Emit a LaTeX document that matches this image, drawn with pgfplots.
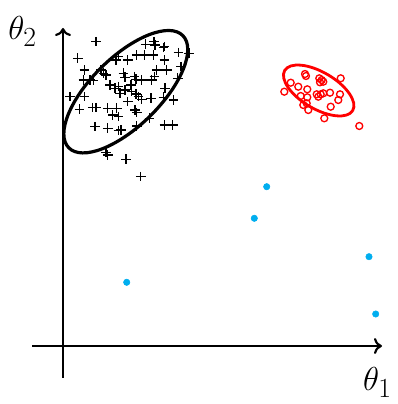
\documentclass[border=0pt]{standalone}
\usepackage{pgfplots}
\pgfplotsset{compat=1.18}
\usetikzlibrary{arrows.meta}
\definecolor{dotcyan}{RGB}{0,174,239}
\definecolor{clred}{RGB}{255,0,0}

% cluster A (plus marks)
\pgfplotstableread{
x y
33 304.3
14.7 287.7
82.7 301.7
91 304.3
92 301
100.3 298.3
101.3 299.3
115.3 293.3
126 292.7
73.7 291
81.3 291
64.7 286
53 286
55.3 289.3
90.3 291
101.3 286
118 279.3
93.7 276
103.7 276
21.3 276
38 276
40.3 272.7
43 271
60.3 272.7
62 268.7
71.3 269.3
73 266.7
78.7 266
91.3 269.3
88.7 266
27 266
20.3 266
30.3 265.3
47 261
52 257.7
55.3 259.3
68 261
62 256
68.7 254.3
73 252
75.3 249.3
78.7 246.7
88 247.7
100.3 248.7
110.3 246
102 257.7
114.7 267.7
7 249.3
21.3 249.3
57 252.7
64.7 244.3
16.3 236.7
29.7 238.3
33 238.3
44.7 237.7
53.7 237.7
49.7 231
55.3 229.3
72 236
73.7 233.3
86.3 227.7
32 219.3
44.7 217.7
55.3 215.3
58 216
73.7 220
101.3 221
109.7 221
43 193.3
44.7 191
63 186.7
77.7 169.3
}\clusterA

% cluster B (open circles)
\pgfplotstableread{
x y
242 272
243 270
256.3 267.7
258.7 266
257 263.7
260.3 264.3
277.7 267.7
221.3 254.3
227.7 263.3
235.3 259.3
244.3 256.7
237.7 250
244.3 248.7
253.7 251.7
257.7 251.7
260.3 252.7
267 253.3
277 251.7
275.3 246
267.7 239.3
240.3 241
243.7 242.7
245.3 236
261.3 227.7
296.3 220
255.3 249.3
}\clusterB

% isolated points
\pgfplotstableread{
x y
203.7 159.3
191.3 127.7
306 89.3
312.7 32
63.7 63.7
}\outliers

\begin{document}
\begin{tikzpicture}
\begin{axis}[
  scale only axis,
  width=297.75pt, height=303pt,
  xmin=-63, xmax=334, ymin=-58, ymax=346,
  hide axis, clip=false,
]
% keep the full plotting area as the picture's extent
\path (axis cs:-63,-58) rectangle (axis cs:334,346);

% coordinate axes
\draw[line width=1.8pt, -{To[length=6pt,width=12pt,line width=1.6pt]}]
  (axis cs:-31,0) -- (axis cs:319,0);
\draw[line width=1.8pt, -{To[length=6pt,width=12pt,line width=1.6pt]}]
  (axis cs:0,-32) -- (axis cs:0,318);

\addplot[only marks, mark=+, mark size=3.6pt, line width=1.1pt, black]
  table[x=x,y=y] {\clusterA};
\addplot[only marks, mark=o, mark size=2.6pt, line width=1pt, clred]
  table[x=x,y=y] {\clusterB};
\addplot[only marks, mark=*, mark size=2.4pt, dotcyan, mark options={draw=dotcyan, fill=dotcyan}]
  table[x=x,y=y] {\outliers};

% covariance ellipses
\draw[line width=2.4pt, black, rotate around={44.5:(axis cs:62.8,254.3)}]
  (axis cs:62.8,254.3) ellipse [x radius=60pt, y radius=25.8pt];
\draw[line width=2.1pt, clred, rotate around={-30.5:(axis cs:255.7,255.5)}]
  (axis cs:255.7,255.5) ellipse [x radius=29.6pt, y radius=13.7pt];

% axis labels
\node[inner sep=0pt, anchor=base west, font=\fontsize{30}{34}\selectfont]
  at (axis cs:-55,306) {$\theta_2$};
\node[inner sep=0pt, anchor=base east, font=\fontsize{30}{34}\selectfont]
  at (axis cs:329,-45) {$\theta_1$};
\end{axis}
\end{tikzpicture}
\end{document}
